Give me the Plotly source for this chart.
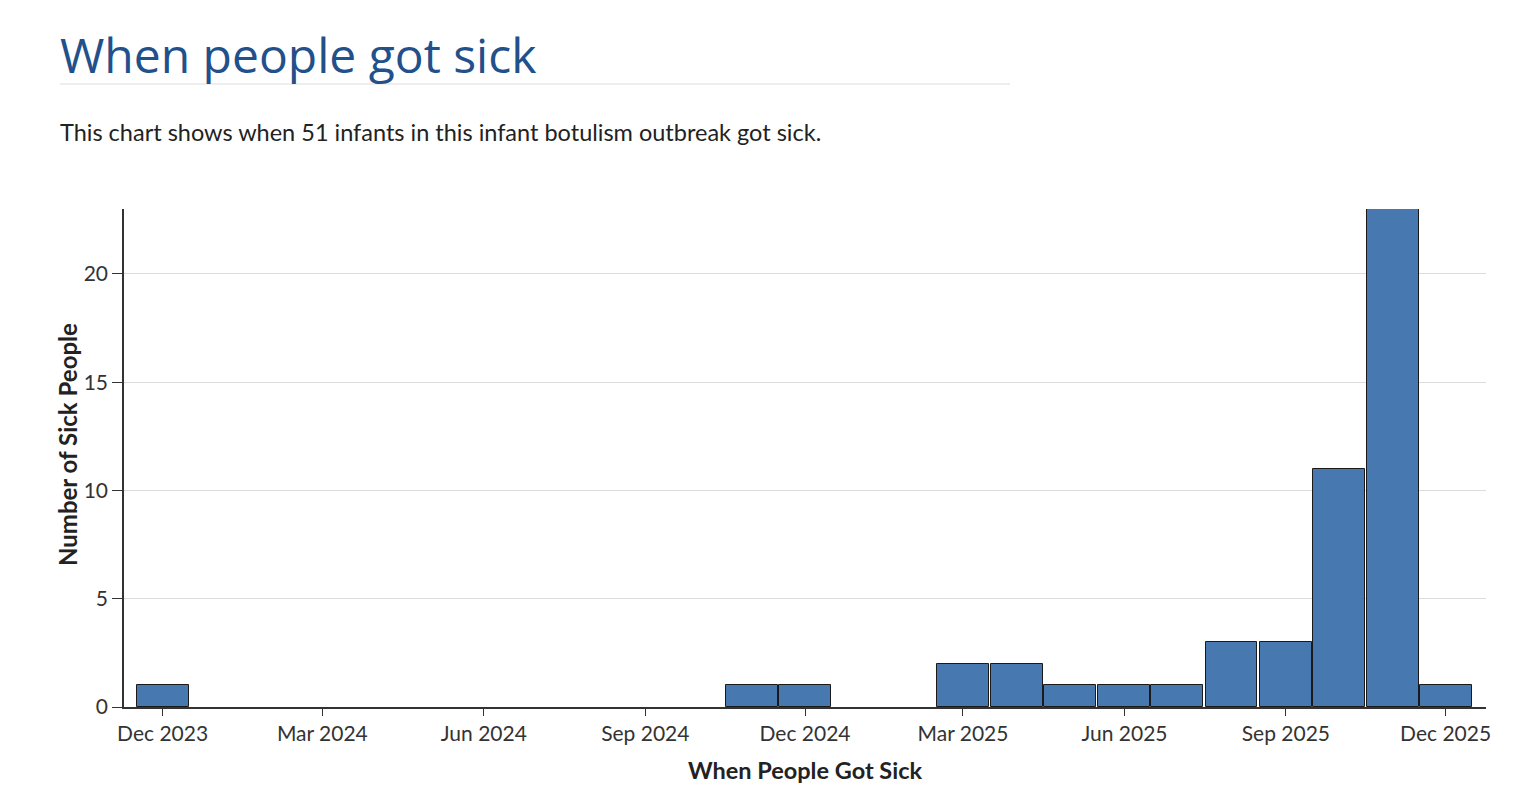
import plotly.graph_objects as go

months = ["2023-12-01", "2024-11-01", "2024-12-01", "2025-03-01", "2025-04-01",
          "2025-05-01", "2025-06-01", "2025-07-01", "2025-08-01", "2025-09-01",
          "2025-10-01", "2025-11-01", "2025-12-01"]
cases = [1, 1, 1, 2, 2, 1, 1, 1, 3, 3, 11, 23, 1]

title_text = "When people got sick"
subtitle_text = "This chart shows when 51 infants in this infant botulism outbreak got sick."
x_title = "When People Got Sick"
y_title = "Number of Sick People"

DAY_MS = 86400000
L, R, T, B = 116, 58, 201, 107
W, H = 1536, 806
PW, PH = W - L - R, H - T - B


def px(xp):  # page x -> paper x
    return (xp - 8 - L) / PW


def py(yp):  # page y -> paper y
    return 1 + (T - (yp - 8)) / PH


fig = go.Figure()
fig.add_trace(go.Bar(
    x=months, y=cases,
    width=[29.6 * DAY_MS] * len(months),
    marker=dict(color="#4878b0", line=dict(color="#1a1a1a", width=1)),
    hoverinfo="x+y",
))

fig.update_layout(
    width=W, height=H,
    margin=dict(l=L, r=R, t=T, b=B),
    paper_bgcolor="white", plot_bgcolor="white",
    showlegend=False,
    bargap=0,
    font=dict(family="Lato, 'Open Sans', sans-serif", color="#333", size=20),
    xaxis=dict(
        type="date",
        range=["2023-11-09", "2025-12-24"],
        tick0="2023-12-01", dtick="M3", tickformat="%b %Y",
        ticks="outside", ticklen=7, tickcolor="#333", tickwidth=1,
        showline=True, linecolor="#333", linewidth=1.5,
        showgrid=False, zeroline=False,
        tickfont=dict(size=21, color="#333"),
        title=dict(text=x_title, font=dict(size=23.5, color="#222", weight="bold"), standoff=19),
    ),
    yaxis=dict(
        range=[0, 23],
        tickvals=[0, 5, 10, 15, 20],
        ticks="outside", ticklen=10, tickcolor="#333", tickwidth=1,
        showline=True, linecolor="#333", linewidth=1.5,
        showgrid=True, gridcolor="#dcdcdc", gridwidth=1,
        zeroline=False,
        tickfont=dict(size=21, color="#333"),
    ),
    annotations=[
        dict(text=title_text, xref="paper", yref="paper", x=px(58), y=py(55),
             xanchor="left", yanchor="middle", showarrow=False,
             font=dict(family="'Open Sans', sans-serif", size=48, color="#22508a", weight=400)),
        dict(text=subtitle_text, xref="paper", yref="paper", x=px(58), y=py(132),
             xanchor="left", yanchor="middle", showarrow=False,
             font=dict(family="Lato, sans-serif", size=23.5, color="#222")),
        dict(text=y_title, xref="paper", yref="paper", x=px(67), y=py(445),
             xanchor="center", yanchor="middle", showarrow=False, textangle=-90,
             font=dict(size=24, color="#222", weight="bold")),
    ],
    shapes=[
        dict(type="line", xref="paper", yref="paper",
             x0=px(60), x1=px(1010), y0=py(84), y1=py(84),
             line=dict(color="#dddddd", width=1)),
    ],
)

fig.write_html("out.html")
